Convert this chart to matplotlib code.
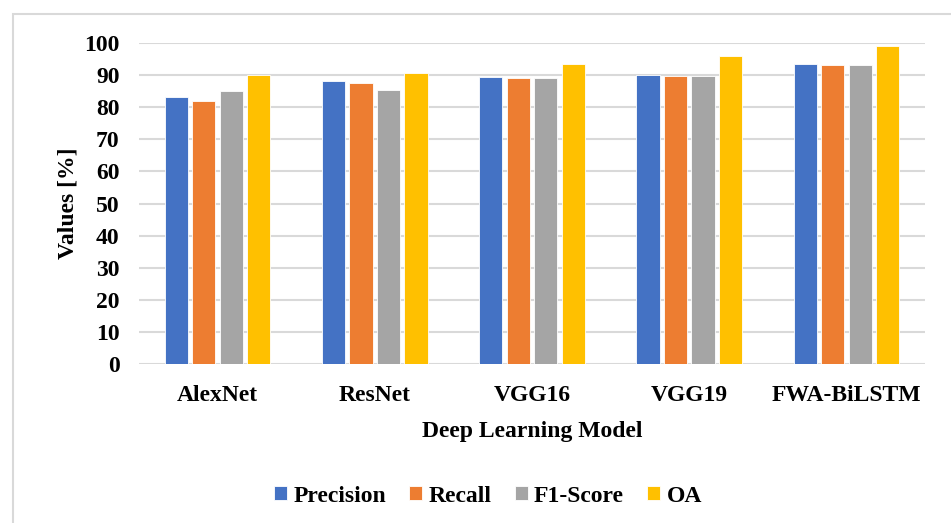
import matplotlib
matplotlib.use("Agg")
import matplotlib.pyplot as plt
import numpy as np
from matplotlib.patches import Rectangle

models = ["AlexNet", "ResNet", "VGG16", "VGG19", "FWA-BiLSTM"]
series_names = ["Precision", "Recall", "F1-Score", "OA"]
precision = [83.2, 88.3, 89.3, 89.9, 93.4]
recall = [82.0, 87.6, 89.0, 89.7, 93.1]
f1_score = [85.0, 85.3, 89.1, 89.7, 93.2]
oa = [90.1, 90.8, 93.4, 95.9, 99.2]
yticks = list(range(0, 101, 10))

colors = ["#4472C4", "#ED7D31", "#A5A5A5", "#FFC000"]
plt.rcParams['font.family'] = ['Liberation Serif', 'DejaVu Serif']
plt.rcParams['font.weight'] = 'bold'

fig = plt.figure(figsize=(9.51, 5.23), dpi=100)
W, H = 951, 523
ax = fig.add_axes([139 / W, 1 - 364 / H, (925 - 139) / W, (364 - 43) / H])

# figure border
fig.patches.append(Rectangle((13 / W, -0.1), 1.2, 1 - 14 / H + 0.1, transform=fig.transFigure,
                             fill=False, edgecolor="#d9d9d9", linewidth=1.5))

x = np.arange(len(models))
slot = 0.175
bw = 0.148
data = [precision, recall, f1_score, oa]
for k, (vals, name, c) in enumerate(zip(data, series_names, colors)):
    ax.bar(x + (k - 1.5) * slot, vals, width=bw, color=c, label=name,
           edgecolor="white", linewidth=0.6, zorder=3)

ax.set_xlim(-0.5, len(models) - 0.5)
ax.set_ylim(0, 100)
ax.set_yticks(yticks)
ax.set_xticks(x)
ax.set_xticklabels(models, fontsize=17, fontweight='bold')
ax.set_yticklabels([str(v) for v in yticks], fontsize=17, fontweight='bold')
ax.yaxis.grid(True, color="#d9d9d9", linewidth=1.5, zorder=0)
ax.set_axisbelow(True)
for s in ax.spines.values():
    s.set_visible(False)
ax.tick_params(axis='both', length=0)
ax.tick_params(axis='y', pad=14)
ax.tick_params(axis='x', pad=15)

ax.set_xlabel("Deep Learning Model", fontsize=17, fontweight='bold', labelpad=11)
ax.set_ylabel("Values [%]", fontsize=17, fontweight='bold', labelpad=4)

leg = fig.legend(loc="center", bbox_to_anchor=(488 / W, 1 - 496 / H), ncol=4,
                 frameon=False, prop={'size': 17, 'weight': 'bold'},
                 handlelength=0.55, handleheight=0.55, handletextpad=0.25,
                 columnspacing=1.0)

fig.savefig("out.png", dpi=100)
